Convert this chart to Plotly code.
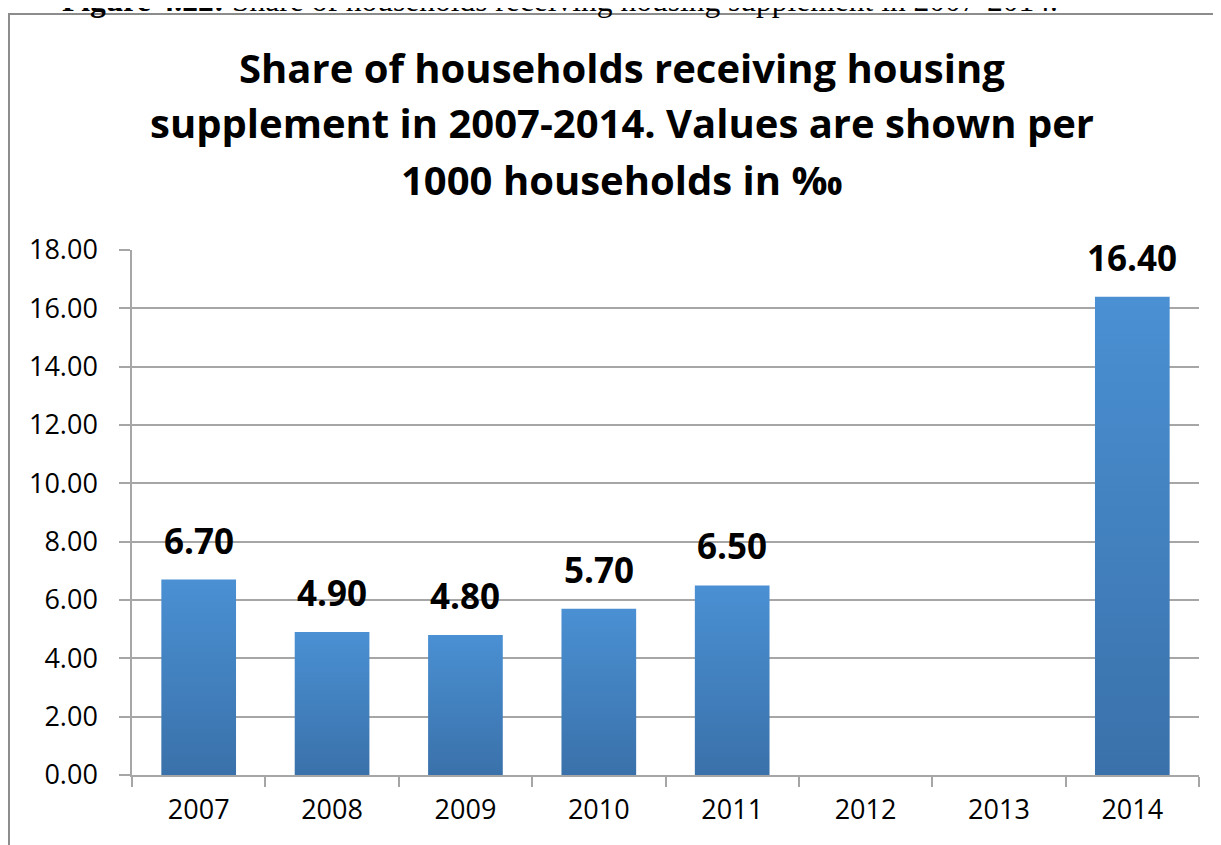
import plotly.graph_objects as go

years = ["2007", "2008", "2009", "2010", "2011", "2012", "2013", "2014"]
values = [6.70, 4.90, 4.80, 5.70, 6.50, None, None, 16.40]
y_ticks = [0, 2, 4, 6, 8, 10, 12, 14, 16, 18]

title_lines = ["Share of households receiving housing",
               "supplement in 2007-2014. Values are shown per",
               "1000 households in ‰"]
caption_text = "<b>Figure 4.22:</b> Share of households receiving housing supplement in 2007-2014."

top_color = "#4a90d3"
bottom_color = "#3a71aa"
grid_color = "#a6a6a6"
half_w = 0.28

fig = go.Figure()

# invisible bar trace to establish the category axis
fig.add_trace(go.Bar(x=years, y=[v if v is not None else 0 for v in values],
                     marker=dict(color="rgba(0,0,0,0)", line=dict(width=0)),
                     hoverinfo="skip", showlegend=False))

# gradient bars on an overlaid numeric axis
for i, v in enumerate(values):
    if v is None:
        continue
    fig.add_trace(go.Scatter(
        x=[i - half_w, i + half_w, i + half_w, i - half_w, i - half_w],
        y=[0, 0, v, v, 0],
        xaxis="x2", mode="lines", line=dict(width=0),
        fill="toself",
        fillgradient=dict(type="vertical",
                          colorscale=[[0, bottom_color], [1, top_color]]),
        hoverinfo="text", text=f"{years[i]}: {v:.2f}",
        showlegend=False))
    fig.add_annotation(x=i, y=v, xref="x2", yref="y", text=f"<b>{v:.2f}</b>",
                       showarrow=False, yanchor="bottom", yshift=14,
                       font=dict(family="Open Sans", size=35, color="#000000"))

# chart title, one annotation per line
for line, ypos in zip(title_lines, [1.2914, 1.1867, 1.0781]):
    fig.add_annotation(x=0.4588, y=ypos, xref="paper", yref="paper",
                       text=f"<b>{line}</b>", showarrow=False,
                       xanchor="center", yanchor="bottom",
                       font=dict(family="Open Sans", size=40, color="#000000"))

fig.add_annotation(x=0.4007, y=1.4381, xref="paper", yref="paper",
                   text=caption_text, showarrow=False, xanchor="center", yanchor="bottom",
                   font=dict(family="Liberation Serif", size=31.5, color="#000000"))

# chart border
fig.add_shape(type="rect", xref="paper", yref="paper",
              x0=-0.1153, y0=-0.2, x1=1.05, y1=1.4495,
              line=dict(color="#8c8c8c", width=2), layer="below")

fig.update_layout(
    width=1221, height=845,
    margin=dict(l=124, r=30, t=242, b=78),
    paper_bgcolor="white", plot_bgcolor="white",
    showlegend=False,
    xaxis=dict(type="category", categoryorder="array", categoryarray=years,
               tickson="boundaries", ticks="outside", ticklen=10, tickwidth=1.5,
               tickcolor=grid_color, showline=True, linecolor=grid_color, linewidth=1.5,
               showgrid=False, ticklabelstandoff=10,
               tickfont=dict(family="Open Sans", size=27, color="#000000"),
               fixedrange=True),
    xaxis2=dict(overlaying="x", range=[-0.5, 7.5], visible=False, fixedrange=True),
    yaxis=dict(range=[0, 18], tickvals=y_ticks, tickformat=".2f",
               ticks="outside", ticklen=11, tickwidth=1.5, tickcolor=grid_color,
               showline=True, linecolor=grid_color, linewidth=1.5,
               showgrid=True, gridcolor=grid_color, gridwidth=1.5, zeroline=False,
               ticklabelstandoff=16,
               tickfont=dict(family="Open Sans", size=27, color="#000000"),
               fixedrange=True),
)

fig.write_html("out.html")
